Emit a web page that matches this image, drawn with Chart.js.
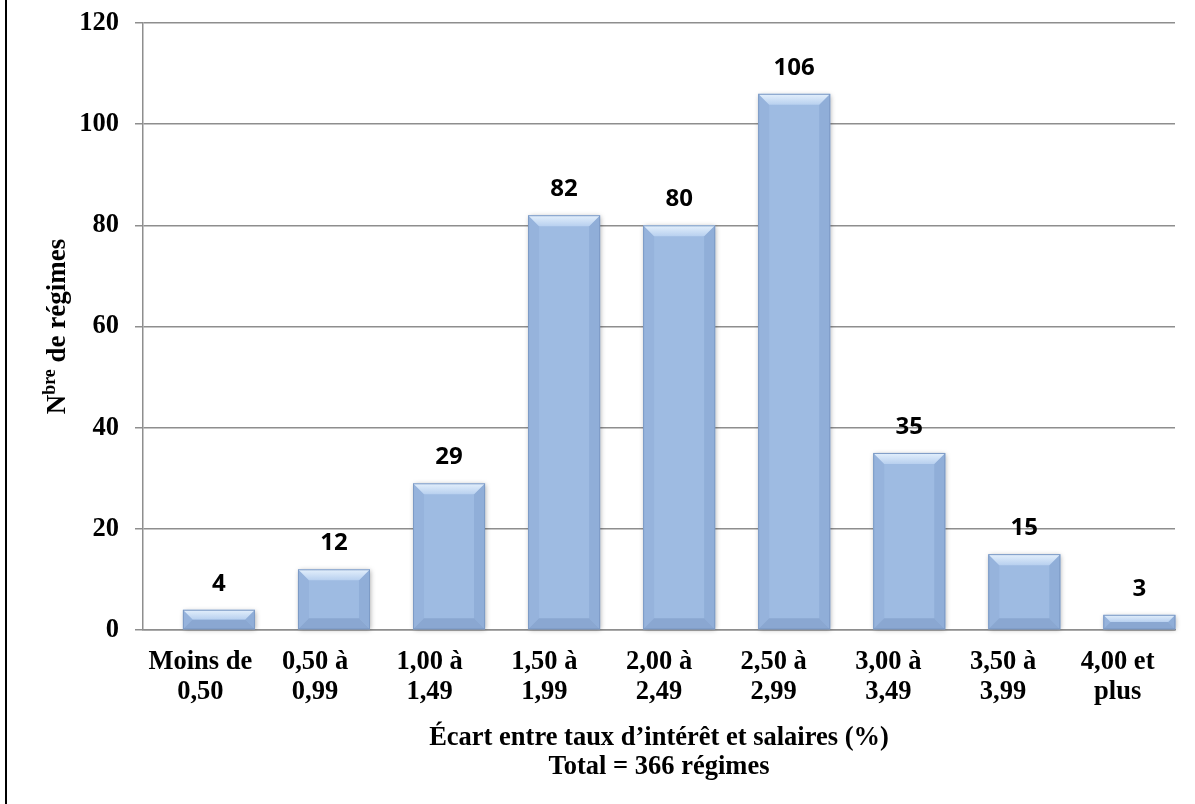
<!DOCTYPE html>
<html lang="fr">
<head>
<meta charset="utf-8">
<title>Écart entre taux d’intérêt et salaires</title>
<script src="https://cdn.jsdelivr.net/npm/chart.js@4/dist/chart.umd.min.js"></script>
<style>
  html, body { margin: 0; padding: 0; background: #ffffff; }
  #wrap { position: relative; width: 1195px; height: 804px; }
  #wrap::before { content: ""; position: absolute; left: 5px; top: 0; width: 2px; height: 804px; background: #000; }
  canvas { display: block; }
</style>
</head>
<body>
<div id="wrap"><canvas id="chart" width="1195" height="804"></canvas></div>
<script>
// Écart entre taux d'intérêt et croissance des salaires — nombre de régimes par tranche
const categories = [
  ['Moins de', '0,50'],
  ['0,50 à', '0,99'],
  ['1,00 à', '1,49'],
  ['1,50 à', '1,99'],
  ['2,00 à', '2,49'],
  ['2,50 à', '2,99'],
  ['3,00 à', '3,49'],
  ['3,50 à', '3,99'],
  ['4,00 et', 'plus']
];
const regimes = [4, 12, 29, 82, 80, 106, 35, 15, 3];
const yTicks = [0, 20, 40, 60, 80, 100, 120];
const xTitle = ['Écart entre taux d’intérêt et salaires (%)', 'Total = 366 régimes'];

const SERIF = '"Liberation Serif", "Times New Roman", serif';
const SANS = '"Open Sans", "Liberation Sans", sans-serif';
const GRID = '#8e8e8e';

// Bevelled bar faces drawn over each bar rectangle
const bevelBars = {
  id: 'bevelBars',
  afterDatasetsDraw(chart) {
    const ctx = chart.ctx;
    chart.getDatasetMeta(0).data.forEach(bar => {
      const p = bar.getProps(['x', 'y', 'base', 'width'], true);
      const l = p.x - p.width / 2, r = p.x + p.width / 2;
      const t = Math.min(p.y, p.base), b = Math.max(p.y, p.base);
      const h = b - t;
      const d = Math.min(11, h / 2);
      ctx.save();
      // soft drop shadow
      ctx.shadowColor = 'rgba(0,0,0,0.35)';
      ctx.shadowBlur = 5;
      ctx.shadowOffsetX = 1;
      ctx.shadowOffsetY = 1;
      ctx.fillStyle = '#9ebbe2';
      ctx.fillRect(l, t, r - l, h);
      ctx.restore();

      ctx.save();
      // left face
      ctx.fillStyle = '#96b3dc';
      ctx.beginPath();
      ctx.moveTo(l, t); ctx.lineTo(l + d, t + d); ctx.lineTo(l + d, b - d); ctx.lineTo(l, b); ctx.closePath(); ctx.fill();
      // right face
      ctx.fillStyle = '#90aed8';
      ctx.beginPath();
      ctx.moveTo(r, t); ctx.lineTo(r - d, t + d); ctx.lineTo(r - d, b - d); ctx.lineTo(r, b); ctx.closePath(); ctx.fill();
      // bottom face
      ctx.fillStyle = '#8aa7d1';
      ctx.beginPath();
      ctx.moveTo(l, b); ctx.lineTo(l + d, b - d); ctx.lineTo(r - d, b - d); ctx.lineTo(r, b); ctx.closePath(); ctx.fill();
      // top face, lit
      const g = ctx.createLinearGradient(0, t, 0, t + d);
      g.addColorStop(0, '#e4f0fc');
      g.addColorStop(1, '#b8d0ef');
      ctx.fillStyle = g;
      ctx.beginPath();
      ctx.moveTo(l, t); ctx.lineTo(r, t); ctx.lineTo(r - d, t + d); ctx.lineTo(l + d, t + d); ctx.closePath(); ctx.fill();
      // outline
      ctx.strokeStyle = '#7d9bc6';
      ctx.lineWidth = 1;
      ctx.strokeRect(l + 0.5, t + 0.5, r - l - 1, h - 1);
      ctx.restore();
    });
  }
};

// Value above each bar
const valueLabels = {
  id: 'valueLabels',
  afterDatasetsDraw(chart) {
    const ctx = chart.ctx;
    ctx.save();
    ctx.font = 'bold 24px ' + SANS;
    ctx.fillStyle = '#000';
    ctx.textAlign = 'center';
    ctx.textBaseline = 'middle';
    chart.getDatasetMeta(0).data.forEach((bar, i) => {
      ctx.fillText(String(regimes[i]), bar.x, bar.y - 26);
    });
    ctx.restore();
  }
};

// Y axis title with superscript "bre"
const yAxisTitle = {
  id: 'yAxisTitle',
  afterDraw(chart) {
    const ctx = chart.ctx;
    const cy = (chart.chartArea.top + chart.chartArea.bottom) / 2;
    const big = 'bold 27px ' + SERIF;
    const small = 'bold 18px ' + SERIF;
    ctx.save();
    ctx.translate(65, cy);
    ctx.rotate(-Math.PI / 2);
    ctx.fillStyle = '#000';
    ctx.textBaseline = 'alphabetic';
    ctx.textAlign = 'left';
    ctx.font = big; const wN = ctx.measureText('N').width;
    ctx.font = small; const wS = ctx.measureText('bre').width;
    ctx.font = big; const wR = ctx.measureText(' de régimes').width;
    let x = -(wN + wS + wR) / 2;
    ctx.font = big; ctx.fillText('N', x, 0); x += wN;
    ctx.font = small; ctx.fillText('bre', x, -10); x += wS;
    ctx.font = big; ctx.fillText(' de régimes', x, 0);
    ctx.restore();
  }
};

new Chart(document.getElementById('chart'), {
  type: 'bar',
  data: {
    labels: categories,
    datasets: [{
      data: regimes.map((v, i) => ({ x: i, y: v })),
      xAxisID: 'xb',
      backgroundColor: 'rgba(0,0,0,0)',
      borderWidth: 0,
      barPercentage: 0.626,
      categoryPercentage: 1.0
    }]
  },
  options: {
    responsive: false,
    animation: false,
    events: [],
    layout: { padding: { top: 23, right: 20, left: 0, bottom: 0 } },
    plugins: { legend: { display: false }, tooltip: { enabled: false } },
    scales: {
      y: {
        min: 0,
        max: 120,
        afterBuildTicks: s => { s.ticks = yTicks.map(v => ({ value: v })); },
        afterFit: s => { s.width = 143; s.paddingTop = 0; s.paddingBottom = 0; },
        grid: { color: GRID, lineWidth: 1.5, tickLength: 8, drawTicks: true },
        border: { display: true, color: GRID, width: 1.5 },
        ticks: { color: '#000', padding: 16, font: { family: SERIF, size: 26.5, weight: 'bold' } }
      },
      // bar placement axis (bars sit slightly right of their category labels)
      xb: {
        type: 'linear',
        display: false,
        offset: false,
        min: -0.66,
        max: 8.31,
        afterBuildTicks: s => { s.ticks = regimes.map((v, i) => ({ value: i })); }
      },
      x: {
        type: 'category',
        afterFit: s => { s.height = 804 - 630; s.paddingLeft = 0; s.paddingRight = 0; },
        grid: { display: false, drawTicks: false },
        border: { display: true, color: GRID, width: 1.5 },
        ticks: {
          color: '#000',
          autoSkip: false,
          maxRotation: 0,
          padding: 17,
          font: { family: SERIF, size: 26.5, weight: 'bold', lineHeight: 1.13 }
        },
        title: {
          display: true,
          text: xTitle,
          color: '#000',
          padding: { top: 4, bottom: 22 },
          font: { family: SERIF, size: 26.5, weight: 'bold', lineHeight: 1.1 }
        }
      }
    }
  },
  plugins: [bevelBars, valueLabels, yAxisTitle]
});
</script>
</body>
</html>
